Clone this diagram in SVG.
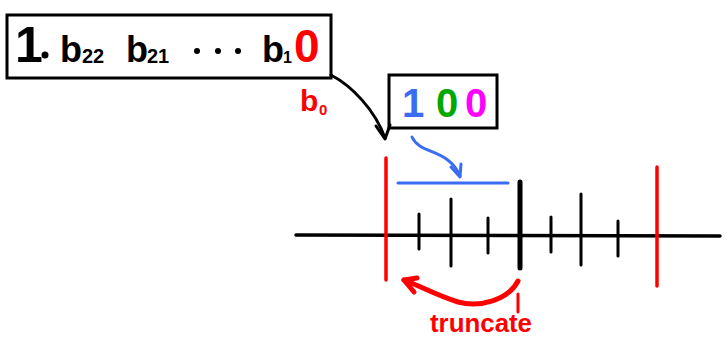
<svg xmlns="http://www.w3.org/2000/svg" width="727" height="339" viewBox="0 0 727 339">
<style>
.hand{font-family:"Liberation Sans",Arial,sans-serif;font-weight:bold;}
.box{fill:#fff;stroke:#000;stroke-width:3;}
.ln{fill:none;stroke-linecap:round;stroke-linejoin:round;}
.blk{stroke:#000;}
.red{stroke:#ff0000;}
.blu{stroke:#3a6cf4;}
</style>
<rect width="727" height="339" fill="#fff"/>
<g id="number-box">
<rect class="box" x="7" y="15" width="324" height="63"/>
<text class="hand" x="15" y="62" font-size="50" fill="#000">1</text>
<circle cx="45" cy="55" r="3.5" fill="#000"/>
<text class="hand" x="60" y="62" font-size="36" fill="#000">b</text>
<text class="hand" x="82" y="63" font-size="20" fill="#000">22</text>
<text class="hand" x="126" y="62" font-size="36" fill="#000">b</text>
<text class="hand" x="147" y="63" font-size="20" fill="#000">21</text>
<circle cx="197" cy="51" r="3" fill="#000"/>
<circle cx="218" cy="51" r="3" fill="#000"/>
<circle cx="238" cy="51" r="3" fill="#000"/>
<text class="hand" x="262" y="62" font-size="36" fill="#000">b</text>
<text class="hand" x="283" y="63" font-size="16" fill="#000">1</text>
<text class="hand" x="294" y="62" font-size="46" fill="#ff0000">0</text>
</g>
<g id="b0-label">
<text class="hand" x="300" y="111" font-size="30" fill="#ff0000">b</text>
<text class="hand" x="319" y="115" font-size="15" fill="#ff0000">0</text>
</g>
<g id="bits-box">
<rect class="box" x="389" y="75" width="108" height="53"/>
<text class="hand" x="413" y="117" font-size="40" fill="#3a6cf4" text-anchor="middle">1</text>
<text class="hand" x="447" y="117" font-size="40" fill="#00a800" text-anchor="middle">0</text>
<text class="hand" x="476" y="117" font-size="40" fill="#ff00ff" text-anchor="middle">0</text>
</g>
<g id="number-line">
<path class="ln blk" d="M296,235 L720,236" stroke-width="3.5"/>
<path class="ln blk" d="M419,214 L419,249" stroke-width="3"/>
<path class="ln blk" d="M451,199 L451,266" stroke-width="3"/>
<path class="ln blk" d="M488,218 L488,253" stroke-width="3"/>
<path class="ln blk" d="M520,182 L520,268" stroke-width="5"/>
<path class="ln blk" d="M551,217 L551,252" stroke-width="3"/>
<path class="ln blk" d="M581,194 L581,265" stroke-width="3"/>
<path class="ln blk" d="M618,221 L618,256" stroke-width="3"/>
<path class="ln red" d="M386,158 L386,280" stroke-width="3.5"/>
<path class="ln red" d="M657,167 L657,286" stroke-width="3.5"/>
<path class="ln blu" d="M398,183 L508,183" stroke-width="3"/>
</g>
<g id="connectors">
<path class="ln blk" d="M331,75 C352,86 375,110 385,138" stroke-width="3"/>
<path class="ln blk" d="M376,126 L385,139 L390,125" stroke-width="3"/>
<path class="ln blu" d="M412,137 C420,155 448,148 460,176" stroke-width="3"/>
<path class="ln blu" d="M451,167 L460,177 L461,164" stroke-width="3"/>
<path class="ln red" d="M518,281 C508,300 480,308 458,302 C438,296 420,286 404,280" stroke-width="5"/>
<path class="ln red" d="M417,278 L404,280 L414,292" stroke-width="5"/>
</g>
<g id="truncate-label">
<path class="ln red" d="M518,294 L518,312" stroke-width="3"/>
<text class="hand" x="430" y="332" font-size="25" font-weight="normal" fill="#ff0000" textLength="102" lengthAdjust="spacingAndGlyphs">truncate</text>
</g>
</svg>
